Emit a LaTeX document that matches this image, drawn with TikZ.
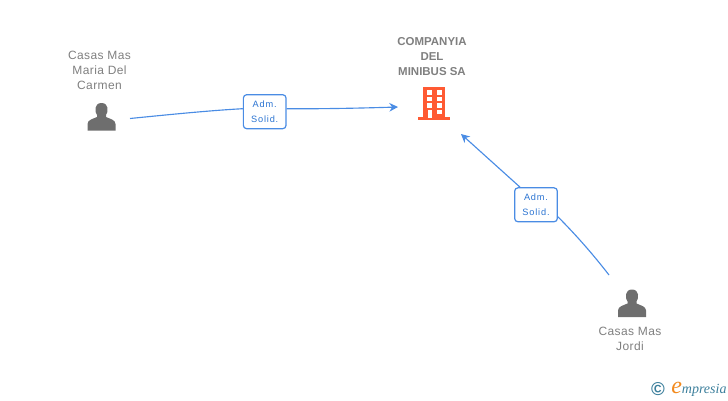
\documentclass[tikz,border=0pt]{standalone}
\usepackage{fontspec}
\usepackage{xcolor}
\setmainfont{Liberation Sans}
\newfontfamily\labelfont[LetterSpace=3.5]{Liberation Sans}
\newfontfamily\boxfont[LetterSpace=9]{Liberation Sans}
\newfontfamily\logofont{Liberation Serif}
\usetikzlibrary{arrows.meta}
\definecolor{labelgray}{HTML}{7F7F7F}
\definecolor{icongray}{HTML}{6E6E6E}
\definecolor{linkblue}{HTML}{4A8CE4}
\definecolor{boxtext}{HTML}{2B74D2}
\definecolor{buildorange}{HTML}{FF5A33}
\definecolor{logoteal}{HTML}{3C7F9C}
\definecolor{logoorange}{HTML}{F28A1E}
\tikzstyle{person} = [text=labelgray, font=\labelfont\fontsize{9}{11.25}\selectfont, align=center]
\tikzstyle{company} = [text=labelgray, font=\bfseries\fontsize{8.6}{11.25}\selectfont, align=center]
\tikzstyle{rolebox} = [rectangle, rounded corners=2.5pt, draw=linkblue, fill=white, line width=0.9pt, minimum width=32pt, minimum height=25.5pt, inner sep=0pt, text=boxtext, font=\boxfont\fontsize{6.9}{11.25}\selectfont, align=center]
\tikzstyle{arrow} = [draw=linkblue, line width=0.85pt, -{Stealth[length=6.5pt,width=6.5pt]}]
\tikzstyle{link} = [draw=linkblue, line width=0.85pt]
\tikzset{
  personicon/.pic={
    \fill [icongray] (-14,13.5) -- (-14,7) .. controls (-14,3) and (-9,2) .. (-4.5,0)
      -- (-4.5,-2) .. controls (-7,-5) and (-7.5,-14) .. (0,-14)
      .. controls (7.5,-14) and (7,-5) .. (4.5,-2) -- (4.5,0)
      .. controls (9,2) and (14,3) .. (14,7) -- (14,13.5) -- cycle;
  },
  buildingicon/.pic={
    \fill [buildorange] (-10.5,-16.5) rectangle (11.5,14);
    \fill [buildorange] (-15,13.5) rectangle (17,16.5);
    \foreach \ypos in {-13.5,-7,-0.5} {
      \fill [white] (-6.5,\ypos) rectangle (-1,\ypos+4.5);
      \fill [white] (3.5,\ypos) rectangle (9,\ypos+4.5);
    }
    \fill [white] (-5.5,6) rectangle (-1,14);
    \fill [white] (3.5,6) rectangle (9,10.5);
  }
}
\begin{document}
\begin{tikzpicture}[x=0.75pt,y=-0.75pt]
    \useasboundingbox (0,0) rectangle (728,400);
    % Nodes
    \node (maria) [person] at (99.5,70) {Casas Mas\\Maria Del\\Carmen};
    \pic at (101.5,117) {personicon};
    \node (jordi) [person] at (630,338.5) {Casas Mas\\Jordi};
    \pic at (632,303.5) {personicon};
    \node (minibus) [company] at (432,57) {COMPANYIA\\DEL\\MINIBUS SA};
    \pic at (433,103.5) {buildingicon};
    \node (role_top) [rolebox] at (264.7,111.7) {Adm.\\Solid.};
    \node (role_low) [rolebox] at (536,204.8) {Adm.\\Solid.};
    \coordinate (maria_out) at (130,118.5);
    \coordinate (jordi_out) at (609,275);
    \coordinate (minibus_left) at (398,107);
    \coordinate (minibus_low) at (461,134);
    % Arrows
    \draw [link] (maria_out) .. controls (170,114.5) and (210,110.5) .. ([yshift=2.25pt]role_top.west);
    \draw [arrow] ([yshift=2.25pt]role_top.east) .. controls (325,109) and (365,108) .. (minibus_left);
    \draw [link] (jordi_out) .. controls (592,253) and (575,234) .. ([yshift=-9pt]role_low.east);
    \draw [arrow] ([xshift=4.5pt]role_low.north west) -- (minibus_low);
    % Logo
    \node (copyright) [text=logoteal, font=\bfseries\fontsize{14}{16}\selectfont, inner sep=0pt] at (658,389) {©};
    \node (logo) [inner sep=0pt, anchor=base west, font=\logofont\itshape] at (671,393.5)
      {\textcolor{logoorange}{\fontsize{18}{18}\selectfont e}\textcolor{logoteal}{\fontsize{10.5}{12}\selectfont mpresia}};
\end{tikzpicture}
\end{document}
